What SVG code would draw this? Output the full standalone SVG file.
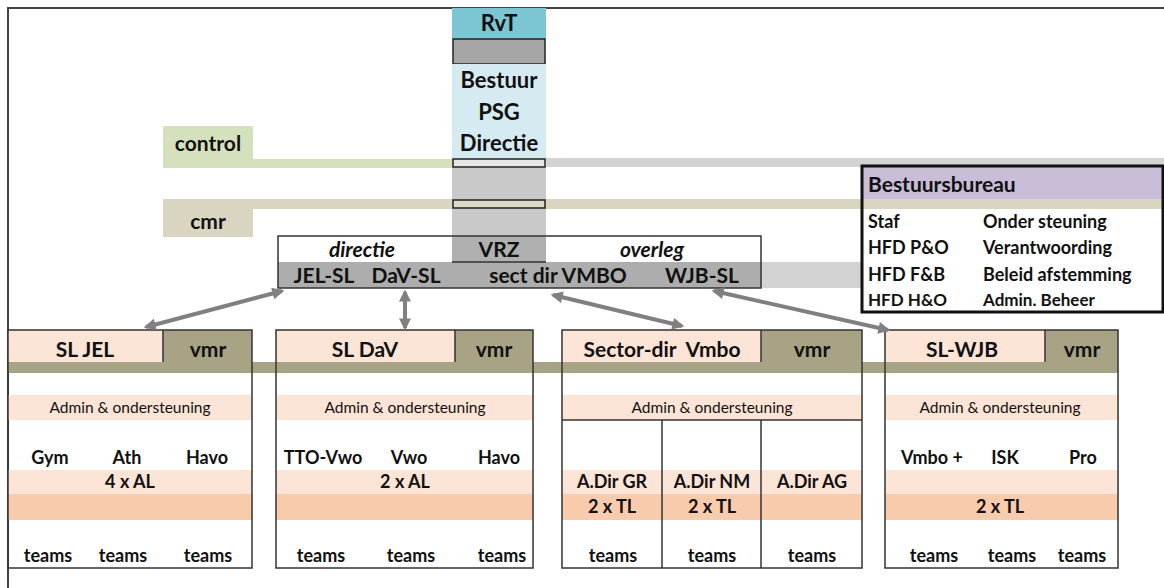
<svg xmlns="http://www.w3.org/2000/svg" width="1164" height="588" viewBox="0 0 1164 588">
<defs>
<style>
text{font-family:Lato,"Noto Sans","Liberation Sans",sans-serif;font-weight:bold;fill:#111;}
.m{text-anchor:middle}
.h{font-size:21px}
.c{font-size:22px}
.s{font-size:18px}
.r{font-size:18px}
.a{font-size:15.5px;font-weight:normal}
.i{font-style:italic}
.box{fill:none;stroke:#333;stroke-width:1.5}
.pk{fill:#fce4d6}
.or{fill:#f8cbad}
.vm{fill:#a8a385}
.conn{stroke:#808080;stroke-width:4;fill:none;marker-start:url(#ah);marker-end:url(#ah)}
</style>
<marker id="ah" viewBox="0 0 10 10" refX="8" refY="5" markerWidth="15" markerHeight="12" markerUnits="userSpaceOnUse" orient="auto-start-reverse">
<path d="M0,0 L10,5 L0,10 Z" fill="#808080"/>
</marker>
</defs>
<rect width="1164" height="588" fill="#fff"/>
<path d="M1164,8 H8 V588" fill="none" stroke="#444" stroke-width="2"/>

<g id="bands">
<rect x="163" y="126" width="90" height="42" fill="#d5e1bc"/>
<rect x="163" y="159" width="290" height="9" fill="#d5e1bc"/>
<rect x="546" y="158" width="618" height="9" fill="#d3d3d3"/>
<rect x="163" y="199" width="90" height="38" fill="#d9d5c1"/>
<rect x="163" y="199" width="1001" height="10" fill="#d9d5c1"/>
<rect x="761" y="262" width="101" height="26" fill="#d3d3d3"/>
<rect x="8" y="362" width="1110" height="11" class="vm"/>
</g>

<g id="control"><text x="208" y="151" class="m h">control</text></g>
<g id="cmr"><text x="208" y="229" class="m h">cmr</text></g>

<g id="column">
<rect x="452" y="8" width="94" height="31" fill="#7cc5d2"/>
<text x="499" y="31" class="m c">RvT</text>
<rect x="453" y="39" width="92" height="25" fill="#a6a6a6" stroke="#222" stroke-width="1.5"/>
<rect x="452" y="64" width="94" height="95" fill="#d6eaf2"/>
<text x="499" y="88" class="m c">Bestuur</text>
<text x="499" y="120" class="m c">PSG</text>
<text x="499" y="151" class="m c">Directie</text>
<rect x="452" y="167" width="94" height="95" fill="#c9c9c9"/>
<rect x="453" y="159" width="92" height="8" fill="#e6e6e6" stroke="#222" stroke-width="1.5"/>
<rect x="453" y="200" width="92" height="8" fill="#ddd9c5" stroke="#222" stroke-width="1.5"/>
</g>

<g id="directie-overleg">
<rect x="278" y="236" width="483" height="52" fill="#fff"/>
<rect x="452" y="236" width="94" height="26" fill="#b0b0b0"/>
<rect x="278" y="262" width="483" height="26" fill="#adadad"/>
<line x1="452" y1="262" x2="546" y2="262" stroke="#333" stroke-width="1.5"/>
<rect x="278" y="236" width="483" height="52" class="box"/>
<text x="362" y="257" class="m h i">directie</text>
<text x="499" y="257" class="m h">VRZ</text>
<text x="652" y="257" class="m h i">overleg</text>
<text x="324" y="283" class="m h">JEL-SL</text>
<text x="406" y="283" class="m h">DaV-SL</text>
<text x="558" y="283" class="m h">sect dir VMBO</text>
<text x="702" y="283" class="m h">WJB-SL</text>
</g>

<g id="bestuursbureau">
<rect x="862" y="166" width="301" height="33" fill="#c9bdd8"/>
<rect x="862" y="199" width="301" height="10" fill="#d9d5c1"/>
<rect x="862" y="209" width="301" height="103" fill="#fff"/>
<rect x="862" y="166" width="301" height="146" fill="none" stroke="#111" stroke-width="3"/>
<text x="868" y="192" style="font-size:21px">Bestuursbureau</text>
<text x="868" y="228" class="r">Staf</text>
<text x="983" y="228" class="r">Onder steuning</text>
<text x="868" y="254" class="r">HFD P&amp;O</text>
<text x="983" y="254" class="r">Verantwoording</text>
<text x="868" y="281" class="r">HFD F&amp;B</text>
<text x="983" y="281" class="r">Beleid afstemming</text>
<text x="868" y="306" style="font-size:17px">HFD H&amp;O</text>
<text x="983" y="306" style="font-size:17px">Admin. Beheer</text>
</g>

<g id="sl-jel">
<rect x="8" y="330" width="155" height="32" class="pk"/>
<rect x="163" y="330" width="89" height="32" class="vm"/>
<rect x="8" y="395" width="244" height="25" class="pk"/>
<rect x="8" y="470" width="244" height="24" class="pk"/>
<rect x="8" y="494" width="244" height="26" class="or"/>
<line x1="163" y1="330" x2="163" y2="362" stroke="#333" stroke-width="1.5"/>
<rect x="8" y="330" width="244" height="238" class="box"/>
<text x="85" y="357" class="m h">SL JEL</text>
<text x="208" y="357" class="m h">vmr</text>
<text x="130" y="413" class="m a">Admin &amp; ondersteuning</text>
<text x="50" y="464" class="m s">Gym</text>
<text x="127" y="464" class="m s">Ath</text>
<text x="207" y="464" class="m s">Havo</text>
<text x="130" y="488" class="m s">4 x AL</text>
<text x="48" y="562" class="m s">teams</text>
<text x="123" y="562" class="m s">teams</text>
<text x="208" y="562" class="m s">teams</text>
</g>

<g id="sl-dav">
<rect x="276" y="330" width="179" height="32" class="pk"/>
<rect x="455" y="330" width="78" height="32" class="vm"/>
<rect x="276" y="395" width="257" height="25" class="pk"/>
<rect x="276" y="470" width="257" height="24" class="pk"/>
<rect x="276" y="494" width="257" height="26" class="or"/>
<line x1="455" y1="330" x2="455" y2="362" stroke="#333" stroke-width="1.5"/>
<rect x="276" y="330" width="257" height="238" class="box"/>
<text x="365" y="357" class="m h">SL DaV</text>
<text x="494" y="357" class="m h">vmr</text>
<text x="405" y="413" class="m a">Admin &amp; ondersteuning</text>
<text x="323" y="464" class="m s">TTO-Vwo</text>
<text x="409" y="464" class="m s">Vwo</text>
<text x="499" y="464" class="m s">Havo</text>
<text x="405" y="488" class="m s">2 x AL</text>
<text x="321" y="562" class="m s">teams</text>
<text x="411" y="562" class="m s">teams</text>
<text x="502" y="562" class="m s">teams</text>
</g>

<g id="sector-dir-vmbo">
<rect x="562" y="330" width="199" height="32" class="pk"/>
<rect x="761" y="330" width="101" height="32" class="vm"/>
<rect x="562" y="395" width="300" height="25" class="pk"/>
<rect x="562" y="470" width="300" height="24" class="pk"/>
<rect x="562" y="494" width="300" height="26" class="or"/>
<line x1="761" y1="330" x2="761" y2="362" stroke="#333" stroke-width="1.5"/>
<line x1="562" y1="420" x2="862" y2="420" stroke="#333" stroke-width="1.5"/>
<line x1="662" y1="420" x2="662" y2="568" stroke="#333" stroke-width="1.5"/>
<line x1="761" y1="420" x2="761" y2="568" stroke="#333" stroke-width="1.5"/>
<rect x="562" y="330" width="300" height="238" class="box"/>
<text x="662" y="357" class="m h" xml:space="preserve">Sector-dir  Vmbo</text>
<text x="812" y="357" class="m h">vmr</text>
<text x="712" y="413" class="m a">Admin &amp; ondersteuning</text>
<text x="612" y="488" class="m s">A.Dir GR</text>
<text x="712" y="488" class="m s">A.Dir NM</text>
<text x="812" y="488" class="m s">A.Dir AG</text>
<text x="612" y="513" class="m s">2 x TL</text>
<text x="712" y="513" class="m s">2 x TL</text>
<text x="613" y="562" class="m s">teams</text>
<text x="712" y="562" class="m s">teams</text>
<text x="812" y="562" class="m s">teams</text>
</g>

<g id="sl-wjb">
<rect x="885" y="330" width="160" height="32" class="pk"/>
<rect x="1045" y="330" width="73" height="32" class="vm"/>
<rect x="885" y="395" width="233" height="25" class="pk"/>
<rect x="885" y="470" width="233" height="24" class="pk"/>
<rect x="885" y="494" width="233" height="26" class="or"/>
<line x1="1045" y1="330" x2="1045" y2="362" stroke="#333" stroke-width="1.5"/>
<rect x="885" y="330" width="233" height="238" class="box"/>
<text x="962" y="357" class="m h">SL-WJB</text>
<text x="1082" y="357" class="m h">vmr</text>
<text x="1000" y="413" class="m a">Admin &amp; ondersteuning</text>
<text x="932" y="464" class="m s">Vmbo +</text>
<text x="1005" y="464" class="m s">ISK</text>
<text x="1083" y="464" class="m s">Pro</text>
<text x="1000" y="513" class="m s">2 x TL</text>
<text x="934" y="562" class="m s">teams</text>
<text x="1012" y="562" class="m s">teams</text>
<text x="1082" y="562" class="m s">teams</text>
</g>

<g id="connectors">
<line x1="282" y1="291" x2="146" y2="327" class="conn"/>
<line x1="405" y1="292" x2="405" y2="328" class="conn"/>
<line x1="553" y1="295" x2="682" y2="326" class="conn"/>
<line x1="714" y1="291" x2="888" y2="330" class="conn"/>
</g>
</svg>
